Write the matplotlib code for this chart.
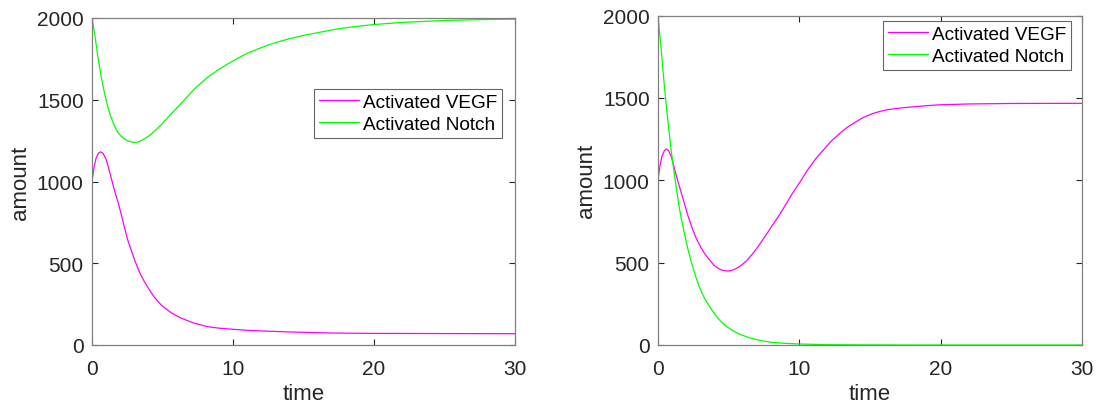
import matplotlib
matplotlib.use("Agg")
import matplotlib.pyplot as plt

# ---- data ----
t_left_vegf = [0, 0.15, 0.3, 0.45, 0.61, 0.8, 1.0, 1.13, 1.35, 1.6, 1.85, 2.07, 2.3, 2.55, 2.8, 3.02, 3.25, 3.49, 3.72, 3.96,
               4.2, 4.43, 4.9, 5.6, 6.3, 7.26, 8.2, 9.0, 10, 11, 12, 13.9, 17.2, 20, 25, 30]
left_vegf = [1000, 1090, 1145, 1172, 1182, 1170, 1135, 1097, 1025, 944, 872, 801, 720, 638, 575, 520, 470, 424, 387, 353,
             320, 292, 245, 198, 165, 133, 112, 103, 96, 90, 86, 80, 73, 71, 70, 69]

t_left_notch = [0, 0.19, 0.42, 0.66, 0.9, 1.13, 1.3, 1.49, 1.65, 1.84, 2.05, 2.31, 2.55, 2.78, 3.0, 3.14, 3.3, 3.49, 3.7, 3.96,
                4.3, 4.67, 5.0, 5.38, 5.85, 6.32, 6.8, 7.26, 7.73, 8.2, 8.9, 9.62, 10.3, 11.0, 11.75, 12.5, 13.2, 13.9,
                14.8, 15.75, 16.6, 17.4, 18.5, 20, 22, 25, 27.5, 30]
left_notch = [2000, 1902, 1760, 1637, 1535, 1454, 1405, 1362, 1330, 1300, 1278, 1260, 1248, 1242, 1240, 1240, 1243, 1250, 1260, 1274,
              1298, 1327, 1355, 1392, 1435, 1478, 1522, 1566, 1602, 1637, 1680, 1719, 1752, 1784, 1810, 1835, 1854, 1871,
              1890, 1906, 1920, 1933, 1946, 1960, 1973, 1985, 1990, 1993]

t_right_vegf = [0, 0.15, 0.3, 0.45, 0.59, 0.75, 0.95, 1.18, 1.4, 1.65, 1.9, 2.13, 2.37, 2.6, 2.83, 3.07, 3.3, 3.55, 3.78, 4.0,
                4.25, 4.49, 4.72, 4.96, 5.2, 5.44, 5.68, 5.91, 6.25, 6.62, 6.98, 7.33, 7.7, 8.04, 8.4, 8.75, 9.1, 9.46,
                9.8, 10.17, 10.5, 10.87, 11.2, 11.58, 11.95, 12.29, 12.65, 13.0, 13.45, 13.95, 14.5, 15.13, 15.7, 16.3,
                17.0, 17.7, 18.8, 19.9, 22, 25, 30]
right_vegf = [1000, 1095, 1150, 1180, 1190, 1180, 1140, 1066, 995, 923, 850, 781, 722, 669, 625, 587, 555, 526, 502, 481,
              466, 455, 451, 449, 452, 461, 471, 485, 510, 546, 585, 628, 675, 720, 765, 811, 862, 913,
              958, 1005, 1052, 1097, 1135, 1172, 1208, 1240, 1268, 1295, 1325, 1352, 1380, 1403, 1418, 1429,
              1437, 1443, 1451, 1458, 1463, 1466, 1467]

t_right_notch = [0, 0.12, 0.24, 0.35, 0.47, 0.59, 0.71, 0.83, 0.95, 1.07, 1.18, 1.3, 1.42, 1.53, 1.65, 1.9, 2.13, 2.37, 2.6,
                 2.83, 3.07, 3.3, 3.55, 3.78, 4.0, 4.25, 4.49, 4.85, 5.2, 5.55, 5.91, 6.4, 6.86, 7.4, 8.04, 9.0, 10,
                 11, 12, 14, 17, 20, 25, 30]
right_notch = [2000, 1890, 1780, 1665, 1556, 1450, 1352, 1258, 1168, 1093, 1025, 950, 883, 822, 765, 665, 577, 500, 434,
               375, 322, 282, 247, 216, 190, 162, 139, 113, 92, 75, 61, 46, 35, 25, 16, 10, 6,
               4, 2, 1, 0, 0, 0, 0]

labels = ["Activated VEGF", "Activated Notch"]
xticks = [0, 10, 20, 30]
yticks = [0, 500, 1000, 1500, 2000]

plt.rcParams['font.family'] = ['Liberation Sans', 'DejaVu Sans']

fig = plt.figure(figsize=(10.97, 4.10), dpi=100)
ax1 = fig.add_axes([92/1097, 1-346/410, (515-92)/1097, (346-19)/410])
ax2 = fig.add_axes([658/1097, 1-346/410, (1082-658)/1097, (346-16.5)/410])

MAG = '#ff00ff'
GRN = '#00ff00'

ax1.plot(t_left_vegf, left_vegf, color=MAG, lw=0.9, label=labels[0])
ax1.plot(t_left_notch, left_notch, color=GRN, lw=0.9, label=labels[1])
ax2.plot(t_right_vegf, right_vegf, color=MAG, lw=0.9, label=labels[0])
ax2.plot(t_right_notch, right_notch, color=GRN, lw=0.9, label=labels[1])

for ax in (ax1, ax2):
    ax.set_xlim(0, 30)
    ax.set_ylim(0, 2000)
    ax.set_xticks(xticks)
    ax.set_yticks(yticks)
    ax.tick_params(direction='in', top=True, right=True, length=4, width=0.8,
                   color='#262626', labelcolor='#262626', labelsize=15)
    ax.tick_params(axis='y', pad=6)
    ax.tick_params(axis='x', pad=10)
    for s in ax.spines.values():
        s.set_color('#808080')
        s.set_linewidth(0.9)
    ax.set_xlabel('time', fontsize=16, color='#262626', labelpad=4)
    ax.set_ylabel('amount', fontsize=16, color='#262626', labelpad=4)

leg_kw = dict(fontsize=13.7, frameon=True, fancybox=False, edgecolor='#404040',
              handlelength=2.1, handletextpad=0.2, borderpad=0.25, labelspacing=0.25,
              borderaxespad=0.0)
l1 = ax1.legend(loc='upper left', bbox_to_anchor=(314/1097, 1-90/410), bbox_transform=fig.transFigure, **leg_kw)
l2 = ax2.legend(loc='upper right', bbox_to_anchor=(1071/1097, 1-22/410), bbox_transform=fig.transFigure, **leg_kw)
for l in (l1, l2):
    l.get_frame().set_linewidth(0.8)

fig.savefig('out.png', dpi=100)
